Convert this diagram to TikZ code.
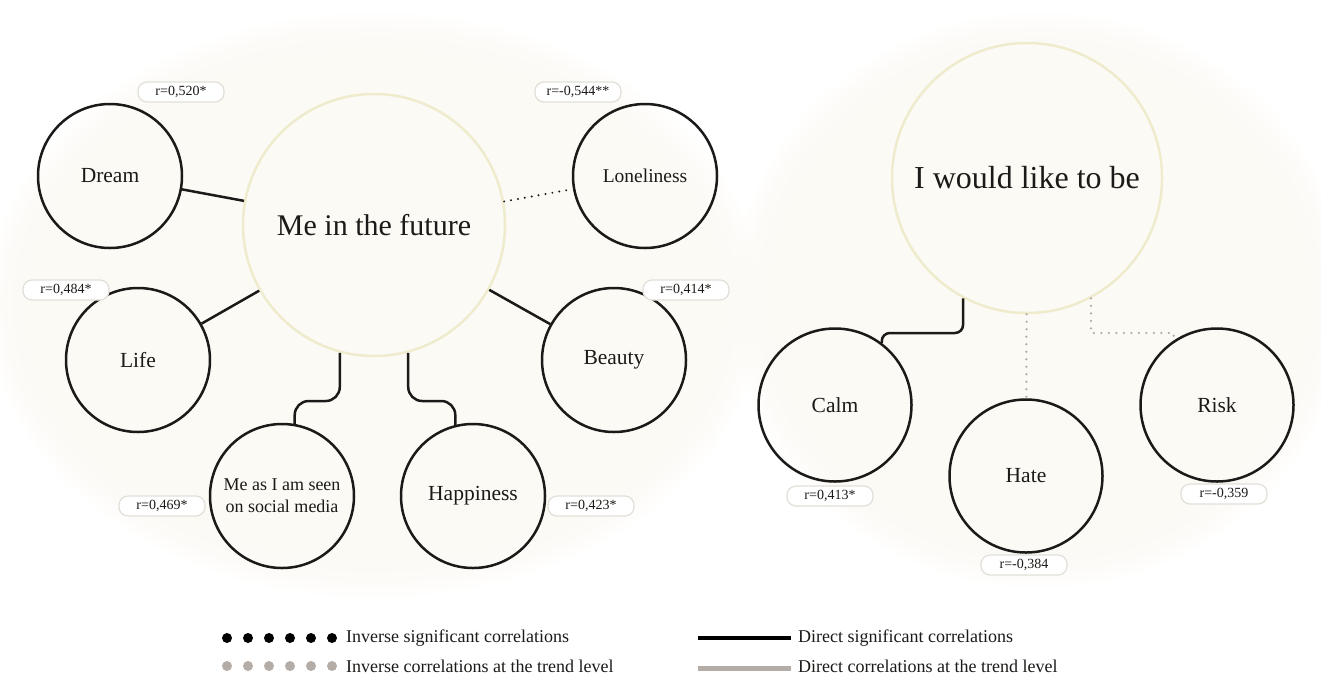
\documentclass[tikz,border=0pt]{standalone}
\usepackage{fontspec}
\setmainfont{Liberation Serif}
\usetikzlibrary{calc}
\definecolor{blob}{RGB}{251,248,242}
\definecolor{hubring}{RGB}{238,236,205}
\definecolor{pillline}{RGB}{226,223,216}
\definecolor{trend}{RGB}{180,172,167}
\definecolor{ink}{RGB}{28,26,24}

\begin{document}
\begin{tikzpicture}[x=1pt,y=-1pt,
  hub/.style={circle, draw=hubring, line width=2.5pt, minimum size=262pt,
    inner sep=0pt, align=center, text=ink},
  item/.style={circle, draw=ink, line width=2.5pt, minimum size=144pt,
    inner sep=0pt, align=center, text=ink, font=\fontsize{21.5}{24}\selectfont},
  pill/.style={draw=pillline, line width=1.2pt, fill=white, rounded corners=9pt,
    minimum width=86pt, minimum height=20pt, inner sep=0pt, text=ink,
    font=\fontsize{14}{16}\selectfont},
  legendtext/.style={anchor=west, inner sep=0pt, text=ink,
    font=\fontsize{18}{20}\selectfont},
  sig/.style={line width=2.5pt, draw=ink},
  invsig/.style={line width=2.2pt, draw=ink, dash pattern=on 0pt off 7pt, line cap=round},
  invtrend/.style={line width=2.5pt, draw=trend, dash pattern=on 0pt off 7.5pt, line cap=round},
]
\useasboundingbox (0,0) rectangle (1321,689);

% soft cream backgrounds behind the two clusters
\foreach \k in {0,...,7}{
  \fill[blob, opacity=0.16] (375,305) ellipse [x radius={388-5*\k}, y radius={293-5*\k}];
  \fill[blob, opacity=0.16] (1040,300) ellipse [x radius={308-5*\k}, y radius={288-5*\k}];
}

% ---- left cluster ----
\node[hub, font=\fontsize{30}{34}\selectfont] (fut) at (374,225) {Me in the future};
\node[item] (dream) at (110,176) {Dream};
\node[item, font=\fontsize{19.5}{22}\selectfont] (lone) at (645,176) {Loneliness};
\node[item] (life) at (138,360) {Life};
\node[item] (beauty) at (614,360) {Beauty};
\node[item, font=\fontsize{18}{22}\selectfont] (social) at (282,496) {Me as I am seen\\on social media};
\node[item] (happy) at (473,496) {Happiness};

% ---- right cluster ----
\node[hub, minimum size=270pt, font=\fontsize{32}{36}\selectfont] (wish) at (1027,178) {I would like to be};
\node[item, minimum size=153pt] (calm) at (835,405) {Calm};
\node[item, minimum size=153pt] (hate) at (1026,476) {Hate};
\node[item, minimum size=153pt] (risk) at (1217,405) {Risk};

% ---- correlation values ----
\node[pill] (pdream)  at (181,92)  {r=0,520*};
\node[pill] (plone)   at (578,92)  {r=-0,544**};
\node[pill] (plife)   at (66,290)  {r=0,484*};
\node[pill] (pbeauty) at (686,290) {r=0,414*};
\node[pill] (psocial) at (162,506) {r=0,469*};
\node[pill] (phappy)  at (591,506) {r=0,423*};
\node[pill] (pcalm)   at (830,496) {r=0,413*};
\node[pill] (phate)   at (1024,565) {r=-0,384};
\node[pill] (prisk)   at (1224,494) {r=-0,359};

% ---- connectors ----
\draw[sig] (dream) -- (fut);
\draw[invsig] (fut) -- (lone);
\draw[sig] (life) -- (fut);
\draw[sig] (beauty) -- (fut);
\coordinate (bendL) at (0,401);
\draw[sig, rounded corners=14pt] (fut.255) |- (social.80 |- bendL) -- (social.80);
\draw[sig, rounded corners=14pt] (fut.285) |- (happy.104 |- bendL) -- (happy.104);
\coordinate (bendR) at (0,333);
\draw[sig, rounded corners=8pt] (wish.242) |- (calm.53 |- bendR) -- (calm.53);
\draw[invtrend] (wish) -- (hate);
\draw[invtrend] (wish.298) |- (risk.124 |- bendR) -- (risk.124);

% ---- legend ----
\foreach \i in {0,...,5}{
  \fill[black] (227+21*\i,638) circle (5);
  \fill[trend] (227+21*\i,666) circle (5);
}
\coordinate (lc1) at (698,638); \coordinate (ld1) at (791,638);
\coordinate (lc2) at (698,668); \coordinate (ld2) at (791,668);
\draw[line width=3.5pt, draw=black] (lc1) -- (ld1);
\draw[line width=5pt, draw=trend] (lc2) -- (ld2);
\node[legendtext] (t1) at (346,638) {Inverse significant correlations};
\node[legendtext] (t2) at (346,666) {Inverse correlations at the trend level};
\node[legendtext] (t3) at (798,638) {Direct significant correlations};
\node[legendtext] (t4) at (798,666) {Direct correlations at the trend level};
\end{tikzpicture}
\end{document}
